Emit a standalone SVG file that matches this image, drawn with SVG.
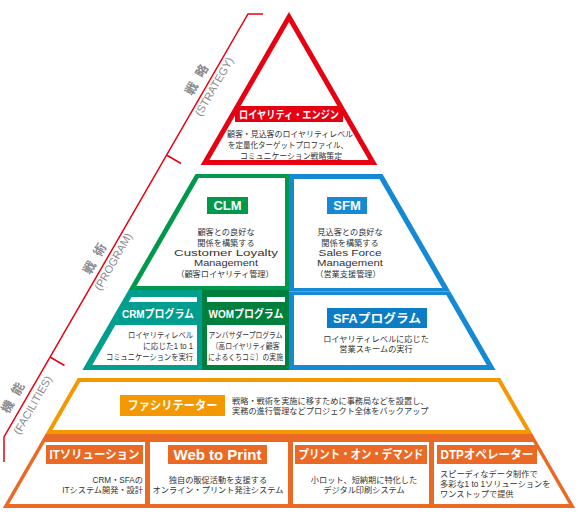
<svg xmlns="http://www.w3.org/2000/svg" width="580" height="524" viewBox="0 0 580 524">
<style>
text{font-family:"Liberation Sans","Noto Sans CJK JP",sans-serif;}
.lbl{font-weight:bold;fill:#fff;text-anchor:middle;}
.d{fill:#333;font-size:8.2px;}
.c{text-anchor:middle;}
.e{text-anchor:end;}
.ax{fill:#8a8a8a;text-anchor:middle;}
.axj{font-size:12.5px;font-weight:bold;}
.axe{font-size:11px;}
</style>
<rect width="580" height="524" fill="#fff"/>
<g id="axis">
<polyline points="263,14 248,14 4,437 4,462" fill="none" stroke="#e60012" stroke-width="1.5"/>
<line x1="166.5" y1="155" x2="181" y2="163.5" stroke="#e60012" stroke-width="1.5"/>
<line x1="50" y1="357" x2="64.5" y2="365.5" stroke="#e60012" stroke-width="1.5"/>
<text class="ax axj" transform="translate(197,80) rotate(-60)" y="4">戦<tspan dx="8">略</tspan></text>
<text class="ax axe" transform="translate(214,86.5) rotate(-60)" y="4">(STRATEGY)</text>
<text class="ax axj" transform="translate(95,259) rotate(-60)" y="4">戦<tspan dx="8">術</tspan></text>
<text class="ax axe" transform="translate(113,261.5) rotate(-60)" y="4">(PROGRAM)</text>
<text class="ax axj" transform="translate(13,398) rotate(-60)" y="4">機<tspan dx="8">能</tspan></text>
<text class="ax axe" transform="translate(32.5,405) rotate(-60)" y="4">(FACILITIES)</text>
</g>
<g id="connectors"/>
<g id="engine">
<polygon points="289,12 200.7,165 377.3,165" fill="#e60012"/>
<polygon points="289,22 209.4,160 368.6,160" fill="#fff"/>
<rect x="235" y="106" width="108" height="16" fill="#e60012"/>
<text class="lbl" x="289" y="118.5" font-size="11" textLength="100" lengthAdjust="spacingAndGlyphs">ロイヤリティ・エンジン</text>
<text class="d c" x="290" y="136.5" font-size="8" textLength="126" lengthAdjust="spacingAndGlyphs">顧客・見込客のロイヤリティレベル</text>
<text class="d c" x="288" y="147.5" font-size="8" textLength="120" lengthAdjust="spacingAndGlyphs">を定量化ターゲットプロファイル、</text>
<text class="d c" x="291" y="158.5" font-size="8" textLength="102" lengthAdjust="spacingAndGlyphs">コミュニケーション戦略策定</text>
</g>
<g id="clm">
<polygon points="195.5,174 289,174 289,290 128.6,290" fill="#00984a"/>
<polygon points="198.7,178 285,178 285,286 136.4,286" fill="#fff"/>
<rect x="207" y="197" width="41" height="17" fill="#00984a"/>
<text class="lbl" x="227.5" y="210" font-size="13">CLM</text>
<text class="d c" x="226" y="235" font-size="9">顧客との良好な</text>
<text class="d c" x="226" y="245.5" font-size="9">関係を構築する</text>
<text class="d c" x="226" y="256" font-size="10" textLength="104" lengthAdjust="spacingAndGlyphs">Customer Loyalty</text>
<text class="d c" x="226" y="266" font-size="10" textLength="64" lengthAdjust="spacingAndGlyphs">Management</text>
<text class="d c" x="225" y="277" font-size="9">（顧客ロイヤリティ管理）</text>
</g>
<g id="sfm">
<polygon points="289,174 382.5,174 450.3,291.5 289,291.5" fill="#1589d3"/>
<polygon points="294,179 379.4,179 442.3,288 294,288" fill="#fff"/>
<rect x="327" y="197" width="40" height="17" fill="#1589d3"/>
<text class="lbl" x="347" y="210" font-size="13">SFM</text>
<text class="d c" x="350" y="235" font-size="9">見込客との良好な</text>
<text class="d c" x="350" y="245.5" font-size="9">関係を構築する</text>
<text class="d c" x="350" y="256" font-size="10" textLength="63" lengthAdjust="spacingAndGlyphs">Sales Force</text>
<text class="d c" x="350" y="266" font-size="10" textLength="66" lengthAdjust="spacingAndGlyphs">Management</text>
<text class="d c" x="348" y="277" font-size="9">（営業支援管理）</text>
</g>
<g id="crm">
<polygon points="128.6,290 202,290 202,370 82.4,370" fill="#009e8e"/>
<polygon points="131.6,297 197,297 197,302 128.7,302" fill="#fff"/>
<polygon points="115.4,325 197,325 197,365 92.3,365" fill="#fff"/>
<text class="lbl" x="158" y="318" font-size="11" textLength="72" lengthAdjust="spacingAndGlyphs">CRMプログラム</text>
<text class="d e" x="193" y="338" font-size="7.5" textLength="65" lengthAdjust="spacingAndGlyphs">ロイヤリティレベル</text>
<text class="d e" x="193" y="349" font-size="7.5" textLength="50" lengthAdjust="spacingAndGlyphs">に応じた1 to 1</text>
<text class="d e" x="193" y="360" font-size="7.5" textLength="87" lengthAdjust="spacingAndGlyphs">コミュニケーションを実行</text>
</g>
<g id="wom">
<rect x="202" y="290" width="87" height="80" fill="#00803c"/>
<rect x="207" y="297" width="78" height="5" fill="#fff"/>
<rect x="207" y="325" width="78" height="40" fill="#fff"/>
<text class="lbl" x="246" y="318" font-size="11" textLength="75" lengthAdjust="spacingAndGlyphs">WOMプログラム</text>
<text class="d c" x="245.5" y="338" font-size="7.5" textLength="74" lengthAdjust="spacingAndGlyphs">アンバサダープログラム</text>
<text class="d c" x="245.5" y="349" font-size="7.5" textLength="68" lengthAdjust="spacingAndGlyphs">（高ロイヤリティ顧客</text>
<text class="d c" x="245.5" y="360" font-size="7.5" textLength="75" lengthAdjust="spacingAndGlyphs">によるくちコミ）の実施</text>
</g>
<g id="sfa">
<polygon points="289,291.5 450.3,291.5 495.6,370 289,370" fill="#1589d3"/>
<polygon points="294,295 446.3,295 486.7,365 294,365" fill="#fff"/>
<rect x="327" y="308" width="100" height="20" fill="#0b7dc5"/>
<text class="lbl" x="377" y="322.5" font-size="12" textLength="88" lengthAdjust="spacingAndGlyphs">SFAプログラム</text>
<text class="d c" x="376" y="341.5" font-size="8.6">ロイヤリティレベルに応じた</text>
<text class="d c" x="376" y="351.5" font-size="8.6">営業スキームの実行</text>
</g>
<g id="facilitator">
<polygon points="77.8,378 500.2,378 532.5,434 45.5,434" fill="#f39800"/>
<polygon points="80.1,382 497.9,382 525.6,430 52.4,430" fill="#fff"/>
<rect x="120" y="395" width="105" height="21" fill="#f39800"/>
<text class="lbl" x="172.5" y="410" font-size="12" textLength="90" lengthAdjust="spacingAndGlyphs">ファシリテーター</text>
<text class="d" x="232" y="403.5" font-size="9.5">戦略・戦術を実施に移すために事務局などを設置し、</text>
<text class="d" x="232" y="414" font-size="9.5">実務の進行管理などプロジェクト全体をバックアップ</text>
</g>
<g id="band">
<polygon points="45.5,434 532.5,434 575.2,508 2.8,508" fill="#ea6a25"/>
</g>
<g id="it">
<polygon points="44.9,442 145,442 145,504 9.1,504" fill="#fff"/>
<rect x="46" y="445" width="97" height="19" fill="#ea6a25"/>
<text class="lbl" x="94.5" y="459" font-size="12" textLength="90" lengthAdjust="spacingAndGlyphs">ITソリューション</text>
<text class="d e" x="143" y="483">CRM・SFAの</text>
<text class="d e" x="143" y="493">ITシステム開発・設計</text>
</g>
<g id="web">
<rect x="150" y="442" width="138" height="62" fill="#fff"/>
<rect x="168" y="445" width="99" height="19" fill="#ea6a25"/>
<text class="lbl" x="217.5" y="459.5" font-size="14" textLength="88" lengthAdjust="spacingAndGlyphs">Web to Print</text>
<text class="d c" x="218" y="483">独自の販促活動を支援する</text>
<text class="d c" x="218" y="493">オンライン・プリント発注システム</text>
</g>
<g id="pod">
<rect x="293" y="442" width="136" height="62" fill="#fff"/>
<rect x="295" y="445" width="132" height="19" fill="#ea6a25"/>
<text class="lbl" x="361" y="459" font-size="12" textLength="125" lengthAdjust="spacingAndGlyphs">プリント・オン・デマンド</text>
<text class="d c" x="364" y="483">小ロット、短納期に特化した</text>
<text class="d c" x="364" y="493">デジタル印刷システム</text>
</g>
<g id="dtp">
<polygon points="434,442 533.1,442 568.9,504 434,504" fill="#fff"/>
<rect x="437" y="445" width="100" height="19" fill="#ea6a25"/>
<text class="lbl" x="487" y="459" font-size="12" textLength="93" lengthAdjust="spacingAndGlyphs">DTPオペレーター</text>
<text class="d" x="440" y="477">スピーディなデータ制作で</text>
<text class="d" x="440" y="487">多彩な1 to 1ソリューションを</text>
<text class="d" x="440" y="497">ワンストップで提供</text>
</g>
</svg>
